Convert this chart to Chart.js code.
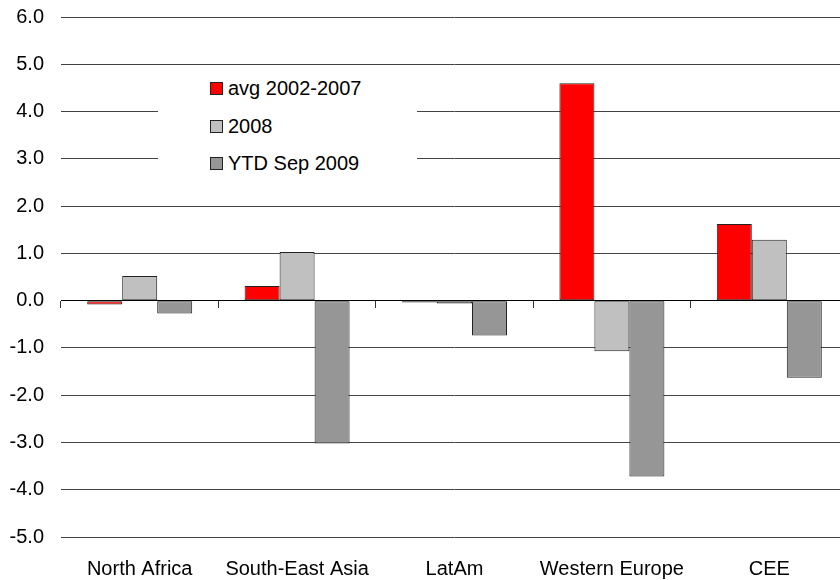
<!DOCTYPE html>
<html lang="en">
<head>
    <meta charset="UTF-8">
    <title>Regional change</title>
    <script src="https://cdn.jsdelivr.net/npm/chart.js"></script>
    <style>
        html, body { margin: 0; padding: 0; background: #fff; overflow: hidden; }
        .wrap { position: relative; width: 850px; height: 580px; overflow: hidden; }
        #chart { position: absolute; left: 0; top: -12px; }
        .legend-box {
            position: absolute; left: 158px; top: 70px; width: 259px; height: 125px;
            background: #fff; font-family: "Liberation Sans", Arial, sans-serif; font-size: 20px; color: #000;
        }
        .legend-item { position: absolute; left: 52px; height: 24px; line-height: 24px; white-space: nowrap; }
        .legend-item span.sw {
            display: inline-block; width: 11px; height: 11px; border: 1px solid #222;
            vertical-align: middle; margin-right: 5px; position: relative; top: -1px;
        }
    </style>
</head>
<body>
<div class="wrap">
    <canvas id="chart" width="850" height="592"></canvas>
    <div id="legend" class="legend-box"></div>
</div>
<script>
    // categories
    const regions = ['North Africa', 'South-East Asia', 'LatAm', 'Western Europe', 'CEE'];

    // series values
    const avg2002to2007 = [-0.08, 0.31, -0.04, 4.60, 1.62];
    const year2008 = [0.52, 1.03, -0.06, -1.07, 1.29];
    const ytdSep2009 = [-0.27, -3.02, -0.74, -3.72, -1.63];

    const seriesNames = ['avg 2002-2007', '2008', 'YTD Sep 2009'];
    const seriesColors = ['#ff0000', '#c0c0c0', '#969696'];

    const yMin = -5;
    const yMax = 6;

    Chart.defaults.font.family = '"Liberation Sans", Arial, sans-serif';
    Chart.defaults.font.size = 20;
    Chart.defaults.color = '#000';

    const seriesData = [avg2002to2007, year2008, ytdSep2009];
    const datasets = seriesData.map((vals, i) => ({
        label: seriesNames[i],
        data: vals,
        backgroundColor: seriesColors[i],
        borderColor: '#222',
        borderWidth: 1,
        borderSkipped: false,
        categoryPercentage: 0.667,
        barPercentage: 1.0
    }));

    new Chart(document.getElementById('chart'), {
        type: 'bar',
        data: { labels: regions, datasets },
        options: {
            responsive: false,
            animation: false,
            layout: { padding: { top: 0, right: 2, left: 0, bottom: 0 } },
            plugins: { legend: { display: false }, tooltip: { enabled: false } },
            scales: {
                x: {
                    type: 'category',
                    position: 'bottom',
                    offset: true,
                    grid: { display: false },
                    border: { display: false },
                    ticks: { padding: 12, maxRotation: 0, autoSkip: false },
                    afterFit: (scale) => { scale.height = 43; }
                },
                // zero line with the category tick marks
                x2: {
                    type: 'category',
                    position: { y: 0 },
                    offset: true,
                    grid: { offset: true, drawOnChartArea: false, drawTicks: true, tickLength: 7, color: '#333' },
                    border: { display: true, color: '#000', width: 1 },
                    ticks: { display: false }
                },
                y: {
                    min: yMin,
                    max: yMax,
                    ticks: {
                        stepSize: 1,
                        padding: 17,
                        callback: (v) => v.toFixed(1)
                    },
                    grid: { color: '#444', drawTicks: false },
                    border: { display: false },
                    afterFit: (scale) => { scale.width = 61; }
                }
            }
        }
    });

    // legend drawn as html so it hides the grid lines behind it
    const legendEl = document.getElementById('legend');
    seriesNames.forEach((name, i) => {
        const item = document.createElement('div');
        item.className = 'legend-item';
        item.style.top = (6 + i * 37.5) + 'px';
        const sw = document.createElement('span');
        sw.className = 'sw';
        sw.style.background = seriesColors[i];
        item.appendChild(sw);
        item.appendChild(document.createTextNode(name));
        legendEl.appendChild(item);
    });
</script>
</body>
</html>
